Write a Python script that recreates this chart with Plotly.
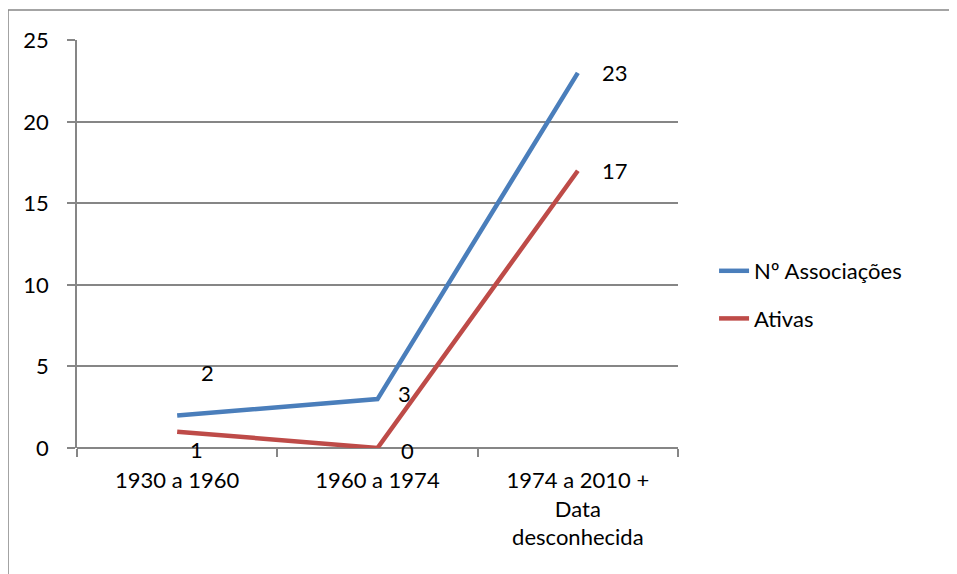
import plotly.graph_objects as go

categories = ["1930 a 1960", "1960 a 1974", "1974 a 2010 +<br>Data<br>desconhecida"]
associacoes = [2, 3, 23]
ativas = [1, 0, 17]
y_ticks = [0, 5, 10, 15, 20, 25]

BLUE = "#4A7EBB"
RED = "#BE4B48"
GRAY = "#868686"
FONT = "Lato"
FS = 22

fig = go.Figure()
fig.add_trace(go.Scatter(x=categories, y=associacoes, mode="lines", name="Nº Associações",
                         line=dict(color=BLUE, width=4.5), legendgroup="a"))
fig.add_trace(go.Scatter(x=categories, y=ativas, mode="lines", name="Ativas",
                         line=dict(color=RED, width=4.5), legendgroup="b"))

# data labels
shifts_a = [(30, 43), (27, 6), (37, 0)]
shifts_b = [(19, -18), (30, -2), (37, 0)]
for c, v, (dx, dy) in zip(categories, associacoes, shifts_a):
    fig.add_annotation(x=c, y=v, text=str(v), showarrow=False, xshift=dx, yshift=dy,
                       font=dict(family=FONT, size=FS, color="black"))
for c, v, (dx, dy) in zip(categories, ativas, shifts_b):
    fig.add_annotation(x=c, y=v, text=str(v), showarrow=False, xshift=dx, yshift=dy,
                       font=dict(family=FONT, size=FS, color="black"))

# outer chart border (left/top visible)
fig.add_shape(type="rect", xref="paper", yref="paper", x0=-0.1148, x1=1.5, y0=-0.4, y1=1.0735,
              line=dict(color=GRAY, width=1.5), fillcolor="rgba(0,0,0,0)", layer="below")

fig.update_layout(
    width=949, height=566,
    margin=dict(l=69, r=279, t=32, b=126),
    paper_bgcolor="white", plot_bgcolor="white",
    font=dict(family=FONT, size=FS, color="black"),
    showlegend=True,
    legend=dict(x=1.06, y=0.375, xanchor="left", yanchor="middle",
                font=dict(family=FONT, size=FS, color="black"),
                tracegroupgap=16, bgcolor="rgba(0,0,0,0)"),
)
fig.update_xaxes(type="category", range=[-0.5, 2.5], tickson="boundaries",
                 ticks="outside", ticklen=8, tickcolor=GRAY, tickwidth=1.5,
                 showline=False, showgrid=False, zeroline=False,
                 ticklabelstandoff=17,
                 tickfont=dict(family=FONT, size=FS, color="black"))
fig.update_yaxes(range=[0, 25.02], tickvals=y_ticks, ticks="outside", ticklen=8,
                 tickcolor=GRAY, tickwidth=1.5,
                 showline=True, linecolor=GRAY, linewidth=1.5,
                 showgrid=True, gridcolor=GRAY, gridwidth=1.5,
                 zeroline=True, zerolinecolor=GRAY, zerolinewidth=1.5,
                 ticklabelstandoff=14,
                 tickfont=dict(family=FONT, size=FS, color="black"))

fig.write_html("out.html")
